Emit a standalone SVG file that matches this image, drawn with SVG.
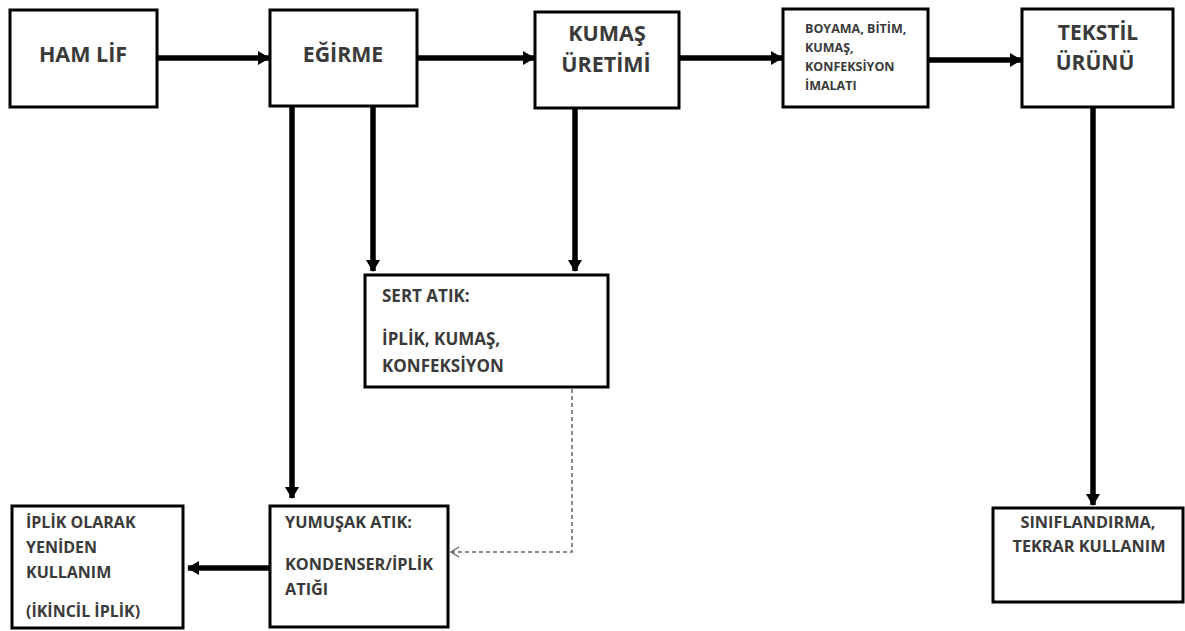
<svg xmlns="http://www.w3.org/2000/svg" width="1185" height="631" viewBox="0 0 1185 631">
  <style>
    .box { fill: #fff; stroke: #000; stroke-width: 3; }
    .t { font-family: "Open Sans", "Liberation Sans", sans-serif; font-weight: 700; fill: #3a3a3a; }
    .flow { fill: none; stroke: #000; stroke-width: 5.5; }
    .dash { fill: none; stroke: #666; stroke-width: 1.5; stroke-dasharray: 4 3; }
  </style>
  <defs>
    <marker id="head" markerUnits="userSpaceOnUse" markerWidth="12" markerHeight="14" refX="11" refY="7" orient="auto">
      <path d="M0,0 L12,7 L0,14 z" fill="#000"/>
    </marker>
    <marker id="open" markerUnits="userSpaceOnUse" markerWidth="10" markerHeight="12" refX="9" refY="6" orient="auto">
      <path d="M1,1 L9,6 L1,11" fill="none" stroke="#666" stroke-width="1.3"/>
    </marker>
  </defs>

  <rect width="1185" height="631" fill="#fff"/>

  <!-- connectors -->
  <g id="connectors">
    <path class="flow" d="M158,58 H269" marker-end="url(#head)"/>
    <path class="flow" d="M418,58 H534" marker-end="url(#head)"/>
    <path class="flow" d="M680,58 H782" marker-end="url(#head)"/>
    <path class="flow" d="M929,60 H1021" marker-end="url(#head)"/>
    <path class="flow" d="M292,107 V498" marker-end="url(#head)"/>
    <path class="flow" d="M373,107 V271" marker-end="url(#head)"/>
    <path class="flow" d="M575,109 V271" marker-end="url(#head)"/>
    <path class="flow" d="M1093,108 V505" marker-end="url(#head)"/>
    <path class="flow" d="M269,568 H188" marker-end="url(#head)"/>
    <path class="dash" d="M572,389 V552 H451" marker-end="url(#open)"/>
  </g>

  <g id="ham-lif">
    <rect class="box" x="10" y="10" width="147" height="97"/>
    <text class="t" x="83" y="62" font-size="21.5" text-anchor="middle">HAM LİF</text>
  </g>

  <g id="egirme">
    <rect class="box" x="270" y="10" width="147" height="96"/>
    <text class="t" x="343" y="62" font-size="21.3" text-anchor="middle">EĞİRME</text>
  </g>

  <g id="kumas-uretimi">
    <rect class="box" x="535" y="12" width="144" height="96"/>
    <text class="t" x="607" y="41" font-size="21.5" text-anchor="middle">KUMAŞ</text>
    <text class="t" x="606" y="72" font-size="21.5" text-anchor="middle">ÜRETİMİ</text>
  </g>

  <g id="boyama">
    <rect class="box" x="783" y="9" width="145" height="98"/>
    <text class="t" font-size="12.5">
      <tspan x="805" y="33">BOYAMA, BİTİM,</tspan>
      <tspan x="805" y="52">KUMAŞ,</tspan>
      <tspan x="805" y="71">KONFEKSİYON</tspan>
      <tspan x="805" y="90">İMALATI</tspan>
    </text>
  </g>

  <g id="tekstil-urunu">
    <rect class="box" x="1022" y="9" width="151" height="98"/>
    <text class="t" x="1098" y="40" font-size="21" text-anchor="middle">TEKSTİL</text>
    <text class="t" x="1095" y="70" font-size="21" text-anchor="middle">ÜRÜNÜ</text>
  </g>

  <g id="sert-atik">
    <rect class="box" x="365" y="275" width="243" height="112"/>
    <text class="t" font-size="17">
      <tspan x="382" y="302">SERT ATIK:</tspan>
      <tspan x="382" y="345">İPLİK, KUMAŞ,</tspan>
      <tspan x="382" y="372">KONFEKSİYON</tspan>
    </text>
  </g>

  <g id="yumusak-atik">
    <rect class="box" x="270" y="506" width="178" height="121"/>
    <text class="t" font-size="16.3">
      <tspan x="285" y="528">YUMUŞAK ATIK:</tspan>
      <tspan x="285" y="570">KONDENSER/İPLİK</tspan>
      <tspan x="285" y="595">ATIĞI</tspan>
    </text>
  </g>

  <g id="iplik-olarak">
    <rect class="box" x="12" y="506" width="171" height="122"/>
    <text class="t" font-size="16">
      <tspan x="26" y="528">İPLİK OLARAK</tspan>
      <tspan x="26" y="553">YENİDEN</tspan>
      <tspan x="26" y="578">KULLANIM</tspan>
      <tspan x="26" y="617">(İKİNCİL İPLİK)</tspan>
    </text>
  </g>

  <g id="siniflandirma">
    <rect class="box" x="993" y="508" width="190" height="94"/>
    <text class="t" x="1088" y="528" font-size="16.3" text-anchor="middle">SINIFLANDIRMA,</text>
    <text class="t" x="1089" y="552" font-size="16.3" text-anchor="middle">TEKRAR KULLANIM</text>
  </g>
</svg>
